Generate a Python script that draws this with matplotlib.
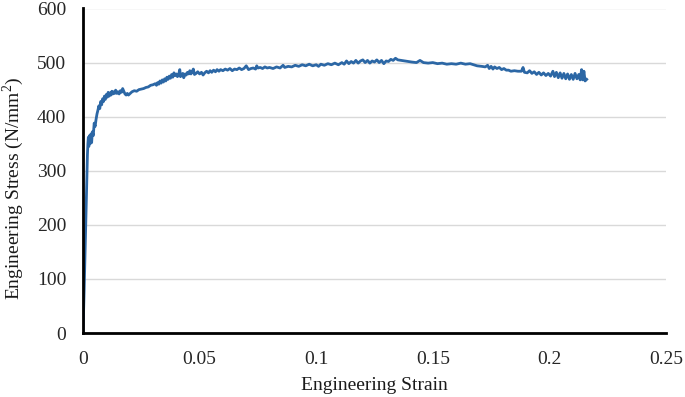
import matplotlib
matplotlib.use('Agg')
from matplotlib import pyplot as plt

# 工程应变 / 工程应力
strain = [
    0, 0.0005, 0.001, 0.0014, 0.0017, 0.0019, 0.0021, 0.0023, 0.0025, 0.0028,
    0.0031, 0.0034, 0.0037, 0.0040, 0.0044, 0.0048, 0.0052, 0.0056, 0.0060, 0.0064,
    0.0068, 0.0072, 0.0076, 0.0080, 0.0084, 0.0088, 0.0092, 0.0096, 0.0100, 0.0104,
    0.0108, 0.0112, 0.0116, 0.0120, 0.0124, 0.0128, 0.0132, 0.0136, 0.0140, 0.0145,
    0.0150, 0.0155, 0.0160, 0.0165, 0.0170, 0.0175, 0.0180, 0.0185, 0.0190, 0.0195,
    0.0200, 0.0210, 0.0220, 0.0230, 0.0240, 0.0250, 0.0260, 0.0270, 0.0280, 0.0290,
    0.0300, 0.0310, 0.0315, 0.0320, 0.0325, 0.0330, 0.0335, 0.0340, 0.0345, 0.0350,
    0.0355, 0.0360, 0.0365, 0.0370, 0.0375, 0.0380, 0.0385, 0.0390, 0.0395, 0.0400,
    0.0405, 0.0410, 0.0415, 0.0418, 0.0422, 0.0428, 0.0432, 0.0438, 0.0443, 0.0448,
    0.0453, 0.0458, 0.0463, 0.0468, 0.0473, 0.0478, 0.0485, 0.0492, 0.0500, 0.0508,
    0.0515, 0.0522, 0.0530, 0.0538, 0.0545, 0.0552, 0.0560, 0.0568, 0.0575, 0.0583,
    0.0590, 0.0600, 0.0610, 0.0620, 0.0630, 0.0640, 0.0650, 0.0660, 0.0670, 0.0680,
    0.0690, 0.0700, 0.0710, 0.0720, 0.0730, 0.0740, 0.0745, 0.0750, 0.0760, 0.0770,
    0.0780, 0.0790, 0.0800, 0.0815, 0.0830, 0.0845, 0.0858, 0.0865, 0.0880, 0.0895,
    0.0910, 0.0925, 0.0940, 0.0955, 0.0970, 0.0985, 0.1000, 0.1010, 0.1020, 0.1035,
    0.1050, 0.1065, 0.1080, 0.1095, 0.1110, 0.1120, 0.1130, 0.1140, 0.1150, 0.1160,
    0.1170, 0.1180, 0.1190, 0.1200, 0.1210, 0.1220, 0.1230, 0.1240, 0.1250, 0.1260,
    0.1270, 0.1280, 0.1290, 0.1300, 0.1310, 0.1320, 0.1330, 0.1340, 0.1350, 0.1365,
    0.1380, 0.1395, 0.1410, 0.1430, 0.1445, 0.1460, 0.1480, 0.1500, 0.1520, 0.1540,
    0.1560, 0.1580, 0.1600, 0.1620, 0.1640, 0.1660, 0.1675, 0.1690, 0.1710, 0.1725,
    0.1735, 0.1742, 0.1750, 0.1758, 0.1765, 0.1775, 0.1785, 0.1795, 0.1805, 0.1815,
    0.1825, 0.1835, 0.1850, 0.1865, 0.1880, 0.1887, 0.1893, 0.1905, 0.1915, 0.1925,
    0.1935, 0.1945, 0.1955, 0.1965, 0.1975, 0.1985, 0.1995, 0.2005, 0.2015, 0.2022,
    0.2030, 0.2038, 0.2046, 0.2054, 0.2062, 0.2070, 0.2078, 0.2086, 0.2094, 0.2102,
    0.2110, 0.2118, 0.2126, 0.2132, 0.2138, 0.2143, 0.2148, 0.2153, 0.2160,
]
stress = [
    0, 80, 170, 250, 300, 330, 350, 362, 345, 365,
    350, 368, 352, 372, 365, 388, 382, 395, 405, 412,
    420, 415, 428, 422, 433, 428, 438, 432, 441, 436,
    445, 438, 444, 440, 447, 442, 446, 443, 449, 443,
    446, 442, 448, 445, 452, 447, 442, 440, 443, 440,
    442, 446, 448, 447, 450, 451, 452, 454, 455, 458,
    459, 461, 458, 463, 460, 466, 462, 468, 464, 470,
    466, 473, 469, 475, 471, 478, 473, 481, 476, 479,
    474, 478, 487, 474, 477, 480, 472, 479, 477, 482,
    479, 485, 479, 483, 488, 478, 480, 483, 479, 482,
    477, 481, 484, 481, 485, 482, 486, 483, 487, 484,
    487, 485, 488, 486, 489, 485, 488, 487, 490, 487,
    489, 494, 487, 489, 490, 488, 494, 490, 491, 489,
    492, 490, 491, 489, 492, 490, 495, 491, 493, 492,
    495, 493, 496, 494, 497, 494, 496, 493, 497, 495,
    498, 496, 499, 496, 500, 497, 503, 498, 502, 499,
    504, 499, 503, 505, 500, 504, 499, 503, 501, 505,
    500, 504, 498, 503, 502, 506, 504, 508, 505, 504,
    503, 502, 501, 500, 504, 500, 499, 500, 498, 499,
    497, 498, 497, 499, 497, 498, 496, 494, 493, 492,
    495, 489, 493, 488, 492, 489, 491, 487, 489, 486,
    486, 484, 485, 484, 484, 491, 482, 481, 485, 480,
    483, 478, 482, 477, 481, 476, 480, 475, 484, 474,
    482, 472, 481, 471, 480, 470, 479, 469, 478, 469,
    480, 470, 478, 468, 487, 468, 484, 466, 469,
]

x_ticks = [0, 0.05, 0.1, 0.15, 0.2, 0.25]
x_tick_labels = ['0', '0.05', '0.1', '0.15', '0.2', '0.25']
y_ticks = [0, 100, 200, 300, 400, 500, 600]

plt.rcParams['font.family'] = ['Liberation Serif', 'DejaVu Serif']
plt.rcParams['mathtext.fontset'] = 'custom'
plt.rcParams['mathtext.rm'] = 'Liberation Serif'

fig = plt.figure(figsize=(6.85, 3.97), dpi=100)
ax = fig.add_axes([83 / 685, 1 - 333 / 397, 583 / 685, 324.5 / 397])

# 网格线
ax.set_axisbelow(True)
ax.yaxis.grid(True, color='#d9d9d9', linewidth=1.0)

ax.plot(strain, stress, color='#2c67a5', linewidth=2.0, solid_joinstyle='round')

ax.set_xlim(0, 0.25)
ax.set_ylim(0, 600)
ax.set_xticks(x_ticks)
ax.set_xticklabels(x_tick_labels)
ax.set_yticks(y_ticks)
ax.tick_params(length=0, labelsize=14, colors='#262626')
ax.tick_params(axis='x', pad=13)
ax.tick_params(axis='y', pad=12)

for side in ['top', 'right']:
    ax.spines[side].set_visible(False)
ax.spines['left'].set_linewidth(2)
ax.spines['bottom'].set_linewidth(2)

ax.set_xlabel('Engineering Strain', fontsize=14, color='#1a1a1a')
ax.set_ylabel(r'Engineering Stress (N/mm$^{\mathrm{2}}$)', fontsize=14, color='#1a1a1a')
ax.xaxis.set_label_coords(0.5, (333 - 385) / 324.5)
ax.yaxis.set_label_coords((13 - 83) / 583, (333 - 188) / 324.5)
ax.xaxis.label.set_va('center')
ax.yaxis.label.set_va('center')

fig.savefig('out.png', dpi=100)
